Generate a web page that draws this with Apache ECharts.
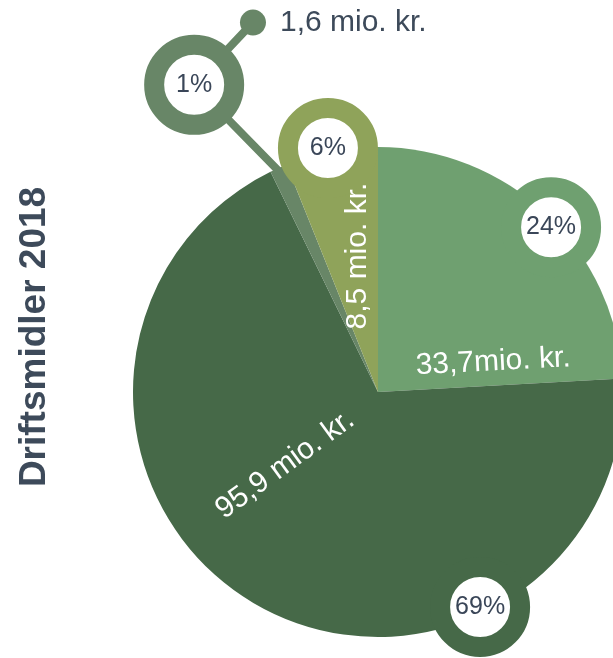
<!DOCTYPE html>
<html>
<head>
<meta charset="utf-8">
<script src="https://cdn.jsdelivr.net/npm/echarts@6/dist/echarts.min.js"></script>
<style>
html,body{margin:0;padding:0;background:#fff;}
#c{width:613px;height:658px;}
</style>
</head>
<body>
<div id="c"></div>
<script>
// Data
const categories = ['Del A', 'Del B', 'Del C', 'Del D'];
const values = [33.7, 95.9, 1.6, 8.5];
const percentLabels = ['24%', '69%', '1%', '6%'];
const amountLabels = ['33,7mio. kr.', '95,9 mio. kr.', '1,6 mio. kr.', '8,5 mio. kr.'];
const sliceColors = ['#6fa070', '#466948', '#688667', '#8fa35a'];
const title = 'Driftsmidler 2018';

// marker placement in polar terms [radius(px), angle(deg clockwise from top)]
const ringPos = [[239, 46.4], [238, 154.6], [358, 329.1], [249, 348.4]];
const amountPos = [[119, 75.4], [118, 231.9], [390, 341.3], [137.5, 351.4]];
const amountRotate = [3, 36, 0, 90];
const leaderPath = [[240, 336], [358, 329.1], [390, 341.3]];

const CX = 378, CY = 392, R = 245, POLAR_R = 420;

const chart = echarts.init(document.getElementById('c'));

const ringData = ringPos.map((p, i) => ({
  value: p,
  name: percentLabels[i],
  itemStyle: { color: '#ffffff', borderColor: sliceColors[i], borderWidth: 20, opacity: 1 }
}));

const amountData = amountPos.map((p, i) => ({
  value: p,
  name: amountLabels[i],
  label: i === 2
    ? { position: 'right', distance: 14, color: '#3d4a5a', rotate: 0 }
    : { position: 'inside', rotate: amountRotate[i], color: '#ffffff' },
  symbolSize: i === 2 ? 26 : 1,
  itemStyle: { color: i === 2 ? sliceColors[2] : 'rgba(0,0,0,0)', opacity: 1 }
}));

chart.setOption({
  animation: false,
  backgroundColor: '#ffffff',
  polar: { center: [CX, CY], radius: POLAR_R },
  angleAxis: { type: 'value', min: 0, max: 360, startAngle: 90, clockwise: true, show: false },
  radiusAxis: { type: 'value', min: 0, max: POLAR_R, show: false },
  graphic: [{
    type: 'text',
    x: 35, y: 337,
    rotation: Math.PI / 2,
    style: {
      text: title,
      fontFamily: 'Liberation Sans, Arial, sans-serif',
      fontWeight: 'bold',
      fontSize: 37,
      fill: '#3d4a5a',
      textAlign: 'center',
      textVerticalAlign: 'middle'
    }
  }],
  series: [
    {
      type: 'pie',
      center: [CX, CY],
      radius: R,
      startAngle: 90,
      clockwise: true,
      silent: true,
      label: { show: false },
      labelLine: { show: false },
      itemStyle: { borderWidth: 0 },
      data: values.map((v, i) => ({ value: v, name: categories[i], itemStyle: { color: sliceColors[i] } })),
      z: 1
    },
    {
      type: 'line',
      coordinateSystem: 'polar',
      data: leaderPath,
      symbol: 'none',
      showSymbol: false,
      clip: false,
      silent: true,
      lineStyle: { color: sliceColors[2], width: 8, opacity: 1 },
      z: 3
    },
    {
      type: 'scatter',
      coordinateSystem: 'polar',
      clip: false,
      silent: true,
      symbol: 'circle',
      symbolSize: 80,
      data: ringData,
      itemStyle: { opacity: 1 },
      label: {
        show: true,
        position: 'inside',
        formatter: '{b}',
        fontFamily: 'Liberation Sans, Arial, sans-serif',
        fontSize: 25,
        color: '#3a4658'
      },
      z: 5
    },
    {
      type: 'scatter',
      coordinateSystem: 'polar',
      clip: false,
      silent: true,
      data: amountData,
      itemStyle: { opacity: 1 },
      label: {
        show: true,
        formatter: '{b}',
        fontFamily: 'Liberation Sans, Arial, sans-serif',
        fontSize: 30
      },
      z: 6
    }
  ]
});
</script>
</body>
</html>
